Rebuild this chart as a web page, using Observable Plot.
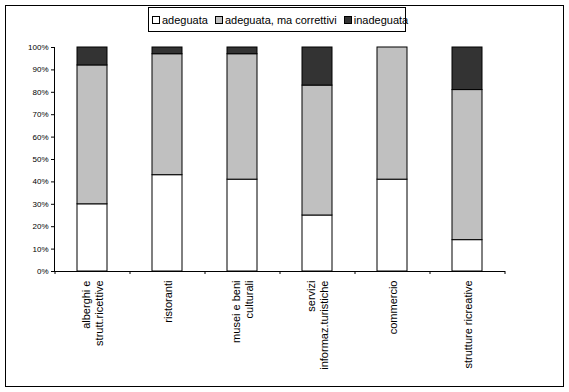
<!DOCTYPE html>
<html>
<head>
<meta charset="utf-8">
<script src="https://cdn.jsdelivr.net/npm/d3@7"></script>
<script src="https://cdn.jsdelivr.net/npm/@observablehq/plot@0.6"></script>
<style>
  html, body { margin: 0; padding: 0; background: #fff; }
  #wrap { position: relative; width: 569px; height: 392px; font-family: "Liberation Sans", Arial, sans-serif; }
  #frame { position: absolute; left: 5px; top: 5px; width: 559px; height: 382px; border: 1px solid #000; box-sizing: border-box; pointer-events: none; }
  #chart { position: absolute; left: 0; top: 0; }
  #legend { position: absolute; left: 148px; top: 7px; width: 258px; height: 25px; border: 1px solid #000; box-sizing: border-box;
            display: flex; align-items: center; padding-left: 3px; font-size: 11px; color: #000; background: #fff; }
  #legend .item { display: flex; align-items: center; margin-right: 7px; white-space: nowrap; }
  #legend .sw { width: 6px; height: 6px; border: 1px solid #000; margin-right: 2px; }
</style>
</head>
<body>
<div id="wrap">
  <div id="chart"></div>
  <div id="legend"></div>
  <div id="frame"></div>
</div>
<script>
const categories = ["alberghi e\nstrutt.ricettive", "ristoranti", "musei e beni\nculturali", "servizi\ninformaz.turistiche", "commercio", "strutture ricreative"];
const seriesNames = ["adeguata", "adeguata, ma correttivi", "inadeguata"];
const seriesColors = ["#ffffff", "#c0c0c0", "#333333"];
const adeguata = [30, 43, 41, 25, 41, 14];
const correttivi = [62, 54, 56, 58, 59, 67];
const inadeguata = [8, 3, 3, 17, 0, 19];
const yTicks = [0, 10, 20, 30, 40, 50, 60, 70, 80, 90, 100];

const seriesValues = [adeguata, correttivi, inadeguata];
const data = [];
seriesNames.forEach((s, si) => {
  categories.forEach((c, ci) => data.push({cat: c, series: s, value: seriesValues[si][ci]}));
});

const chart = Plot.plot({
  width: 569,
  height: 392,
  marginLeft: 54,
  marginRight: 65,
  marginTop: 47,
  marginBottom: 121,
  style: {fontFamily: "'Liberation Sans', Arial, sans-serif", fontSize: "8px", color: "#000", background: "transparent"},
  x: {domain: categories, paddingInner: 0.6, paddingOuter: 0.3, axis: null, label: null},
  y: {domain: [0, 100], axis: null, label: null},
  color: {domain: seriesNames, range: seriesColors},
  marks: [
    Plot.barY(data, {x: "cat", y: "value", fill: "series", stroke: "#000", strokeWidth: 1}),
    Plot.axisY(yTicks, {tickSize: 3, tickPadding: 3, tickFormat: d => d + "%", fontSize: 8, label: null}),
    Plot.frame({anchor: "left", stroke: "#000"}),
    Plot.frame({anchor: "bottom", stroke: "#000"}),
    Plot.axisX(categories, {tickSize: 3, tickFormat: () => "", dx: -37.5, label: null}),
    Plot.axisX([categories[categories.length - 1]], {tickSize: 3, tickFormat: () => "", dx: 37.5, label: null}),
    Plot.text(categories, {x: d => d, frameAnchor: "bottom", dy: 9, rotate: -90, textAnchor: "end", lineAnchor: "middle", fontSize: 11, lineHeight: 1.2})
  ]
});
document.getElementById("chart").appendChild(chart);

const legend = document.getElementById("legend");
seriesNames.forEach((s, i) => {
  const item = document.createElement("span");
  item.className = "item";
  const sw = document.createElement("span");
  sw.className = "sw";
  sw.style.background = seriesColors[i];
  item.appendChild(sw);
  item.appendChild(document.createTextNode(s));
  legend.appendChild(item);
});
</script>
</body>
</html>
